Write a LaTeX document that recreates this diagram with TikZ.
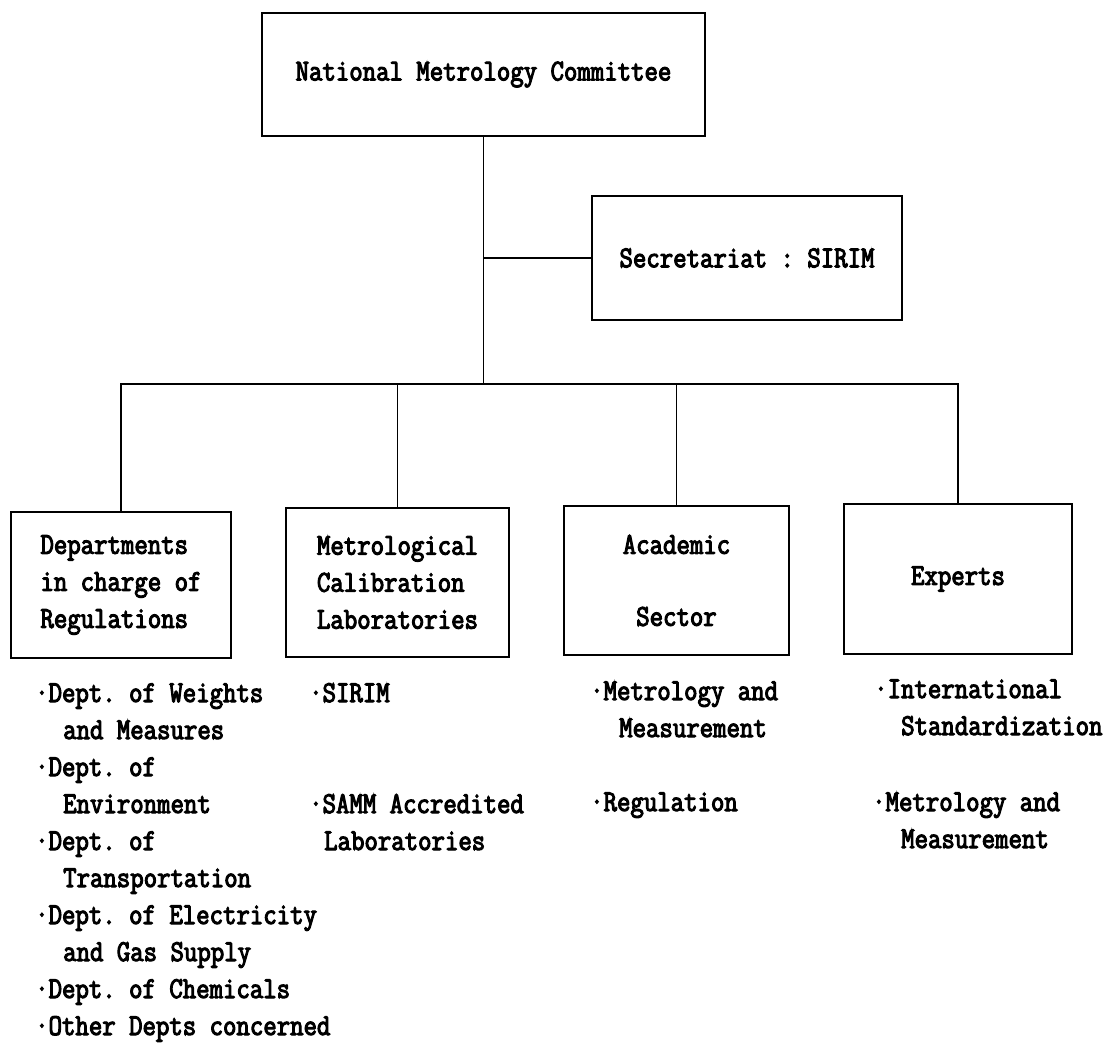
\documentclass[tikz,border=0pt]{standalone}
\usepackage{fontspec}
\newfontfamily\cf[FakeStretch=0.86,FakeBold=3.5]{Latin Modern Mono}
\newcommand\cfont{\cf\fontsize{30.3pt}{37pt}\selectfont\frenchspacing}
\begin{document}
\begin{tikzpicture}[x=1pt,y=-1pt,
  box/.style={draw, line width=2.4pt, inner sep=0pt, font=\cfont, align=left},
  conn/.style={line width=1.4pt},
  li/.style={anchor=west, inner sep=0pt, text height=24pt, text depth=8pt, font=\cfont}]
\fill[white] (0,0) rectangle (1119,1043);
\useasboundingbox (0,0) rectangle (1119,1043);

% boxes
\node[box, minimum width=443pt, minimum height=123pt] (top) at (483.5,74.5) {National Metrology Committee};
\node[box, minimum width=310pt, minimum height=124pt] (secr) at (747,258) {Secretariat : SIRIM};
\node[box, minimum width=220pt, minimum height=146pt] (b1) at (121,585) {Departments\\in charge of\\Regulations};
\node[box, minimum width=223pt, minimum height=149pt] (b2) at (397.5,582.5) {Metrological\\Calibration\\Laboratories};
\node[box, align=center, minimum width=225pt, minimum height=149pt] (b3) at (676.5,580.5) {Academic\\[35pt]Sector};
\node[box, minimum width=228pt, minimum height=150pt] (b4) at (958,579) {Experts};

% connectors
\coordinate (j) at (483.5,384);
\draw[conn] (top.south) -- (j);
\draw[conn] (secr.west) -- (secr.west -| top.south);
\draw[conn] (b1.north) -- (b1.north |- j) -- (b4.north |- j) -- (b4.north);
\draw[conn] (b2.north) -- (b2.north |- j);
\draw[conn] (b3.north) -- (b3.north |- j);

% column 1
\node[li] (l1a) at (35,694) {·Dept. of Weights};
\node[li] (l1b) at (63,731) {and Measures};
\node[li] (l1c) at (35,768) {·Dept. of};
\node[li] (l1d) at (63,805) {Environment};
\node[li] (l1e) at (35,842) {·Dept. of};
\node[li] (l1f) at (63,879) {Transportation};
\node[li] (l1g) at (35,916) {·Dept. of Electricity};
\node[li] (l1h) at (63,953) {and Gas Supply};
\node[li] (l1i) at (35,990) {·Dept. of Chemicals};
\node[li] (l1j) at (35,1027) {·Other Depts concerned};

% column 2
\node[li] (l2a) at (309,694) {·SIRIM};
\node[li] (l2b) at (309,805) {·SAMM Accredited};
\node[li] (l2c) at (324,842) {Laboratories};

% column 3
\node[li] (l3a) at (590,692) {·Metrology and};
\node[li] (l3b) at (619,729) {Measurement};
\node[li] (l3c) at (590,803) {·Regulation};

% column 4
\node[li] (l4a) at (874,690) {·International};
\node[li] (l4b) at (901,727) {Standardization};
\node[li] (l4c) at (872,803) {·Metrology and};
\node[li] (l4d) at (901,840) {Measurement};
\end{tikzpicture}
\end{document}
